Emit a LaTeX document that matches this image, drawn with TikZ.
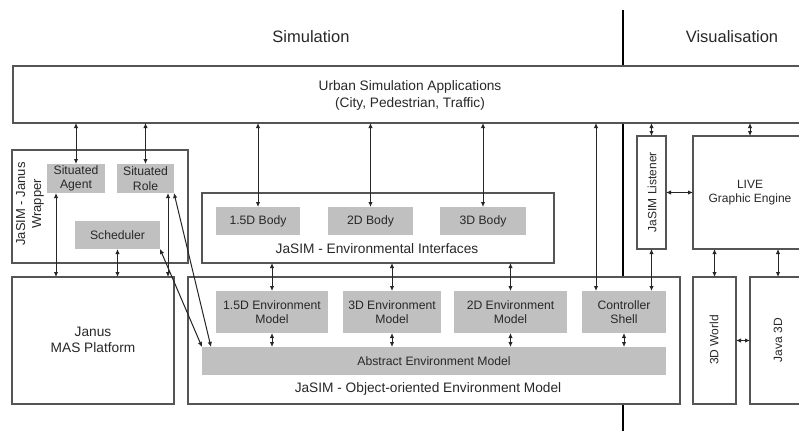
\documentclass[tikz,border=0pt]{standalone}
\usepackage{fontspec}
\setmainfont{Liberation Sans}
\usetikzlibrary{arrows.meta}
\definecolor{boxline}{RGB}{85,85,85}
\definecolor{greyfill}{RGB}{192,192,192}
\definecolor{txt}{RGB}{40,40,40}
\tikzset{
  wbox/.style={draw=boxline, line width=1.4pt, fill=white, inner sep=0pt, outer sep=0pt, anchor=north west},
  gbox/.style={fill=greyfill, inner sep=0pt, outer sep=0pt, anchor=north west, text=txt, font=\fontsize{12.2}{14.5}\selectfont, align=center},
  lbl/.style={text=txt, inner sep=0pt, align=center},
  big/.style={font=\fontsize{13.7}{17}\selectfont},
  small/.style={font=\fontsize{12}{14}\selectfont},
  arr/.style={draw=black!85, line width=1pt, {Latex[length=5pt,width=4.5pt]}-{Latex[length=5pt,width=4.5pt]}},
  divider/.style={draw=black, line width=1.8pt}
}
\begin{document}
\begin{tikzpicture}[x=1pt,y=-1pt]
\useasboundingbox (0,0) rectangle (799,431);
\clip (0,0) rectangle (799,431);
\fill[white] (0,0) rectangle (799,431);
% divider
\coordinate (dtop) at (623,10);
\coordinate (dbot) at (623,431);
\draw[divider] (dtop) -- (dbot);
% titles
\node[lbl, font=\fontsize{16.5}{19}\selectfont] (tsim) at (311,37) {Simulation};
\node[lbl, font=\fontsize{16.5}{19}\selectfont] (tvis) at (732,37) {Visualisation};
% white boxes
\node[wbox, minimum width=797pt, minimum height=57pt] (urban) at (13,66) {};
\node[wbox, minimum width=176pt, minimum height=113pt] (wrap) at (12,150) {};
\node[wbox, minimum width=352pt, minimum height=70pt] (envif) at (202,193) {};
\node[wbox, minimum width=162pt, minimum height=127pt] (janus) at (12,277) {};
\node[wbox, minimum width=492pt, minimum height=127pt] (oo) at (188,277) {};
\node[wbox, minimum width=29pt, minimum height=113pt] (listener) at (637,136) {};
\node[wbox, minimum width=114pt, minimum height=113pt] (live) at (693,136) {};
\node[wbox, minimum width=43pt, minimum height=127pt] (world) at (693,277) {};
\node[wbox, minimum width=56pt, minimum height=127pt] (java) at (750,277) {};
% grey boxes
\node[gbox, minimum width=58pt, minimum height=29pt] (agent) at (47,164) {Situated\\Agent};
\node[gbox, minimum width=57pt, minimum height=29pt] (role) at (117,164) {Situated\\Role};
\node[gbox, minimum width=85pt, minimum height=28pt] (sched) at (75,221) {Scheduler};
\node[gbox, minimum width=84pt, minimum height=28pt] (b15) at (216,207) {1.5D Body};
\node[gbox, minimum width=85pt, minimum height=28pt] (b2) at (328,207) {2D Body};
\node[gbox, minimum width=86pt, minimum height=28pt] (b3) at (440,207) {3D Body};
\node[gbox, minimum width=112pt, minimum height=42pt] (e15) at (216,291) {1.5D Environment\\Model};
\node[gbox, minimum width=98pt, minimum height=42pt] (e3) at (343,291) {3D Environment\\Model};
\node[gbox, minimum width=113pt, minimum height=42pt] (e2) at (454,291) {2D Environment\\Model};
\node[gbox, minimum width=84pt, minimum height=42pt] (ctrl) at (582,291) {Controller\\Shell};
\node[gbox, minimum width=464pt, minimum height=28pt] (abs) at (202,347) {Abstract Environment Model};
% labels
\node[lbl, big] (turban) at (410,95) {Urban Simulation Applications\\(City, Pedestrian, Traffic)};
\node[lbl, font=\fontsize{13}{16}\selectfont, rotate=90] (twrap) at (30,204) {JaSIM - Janus\\Wrapper};
\node[lbl, big] (tenvif) at (377,249) {JaSIM - Environmental Interfaces};
\node[lbl, font=\fontsize{13.7}{16}\selectfont] (tjanus) at (93,340) {Janus\\MAS Platform};
\node[lbl, big] (too) at (428,389) {JaSIM - Object-oriented Environment Model};
\node[lbl, small, rotate=90] (tlist) at (652,192) {JaSIM Listener};
\node[lbl, small] (tlive) at (750,193) {LIVE\\Graphic Engine};
\node[lbl, small, rotate=90] (tworld) at (714,340) {3D World};
\node[lbl, small, rotate=90] (tjava) at (778,340) {Java 3D};
% helper coordinates
\coordinate (cc) at ([xshift=14pt]ctrl.north west);
\coordinate (ca) at ([xshift=9pt]agent.south west);
\coordinate (cr) at ([xshift=-6pt]role.south east);
\coordinate (cabs) at ([xshift=9pt]abs.north west);
% arrows from urban
\draw[arr] (agent.north |- urban.south) -- (agent.north);
\draw[arr] (role.north |- urban.south) -- (role.north);
\draw[arr] (b15.north |- urban.south) -- (b15.north);
\draw[arr] (b2.north |- urban.south) -- (b2.north);
\draw[arr] (b3.north |- urban.south) -- (b3.north);
\draw[arr] (cc |- urban.south) -- (cc);
\draw[arr] (listener.north |- urban.south) -- (listener.north);
\draw[arr] (live.north |- urban.south) -- (live.north);
% visualisation
\draw[arr] (listener.east) -- (live.west |- listener.east);
\draw[arr] (listener.south) -- (listener.south |- ctrl.north);
\draw[arr] (world.north |- live.south) -- (world.north);
\draw[arr] (java.north |- live.south) -- (java.north);
\draw[arr] (world.east) -- (java.west |- world.east);
% env interfaces to models
\draw[arr] (e15.north |- envif.south) -- (e15.north);
\draw[arr] (e3.north |- envif.south) -- (e3.north);
\draw[arr] (e2.north |- envif.south) -- (e2.north);
% models to abstract
\draw[arr] (e15.south) -- (e15.south |- abs.north);
\draw[arr] (e3.south) -- (e3.south |- abs.north);
\draw[arr] (e2.south) -- (e2.south |- abs.north);
\draw[arr] (ctrl.south) -- (ctrl.south |- abs.north);
% wrapper to janus
\draw[arr] (ca) -- (ca |- janus.north);
\draw[arr] (sched.south) -- (sched.south |- janus.north);
\draw[arr] (cr) -- (cr |- janus.north);
% diagonals
\draw[arr] (role.south east) -- (cabs);
\draw[arr] (sched.south east) -- (abs.north west);
\end{tikzpicture}
\end{document}
